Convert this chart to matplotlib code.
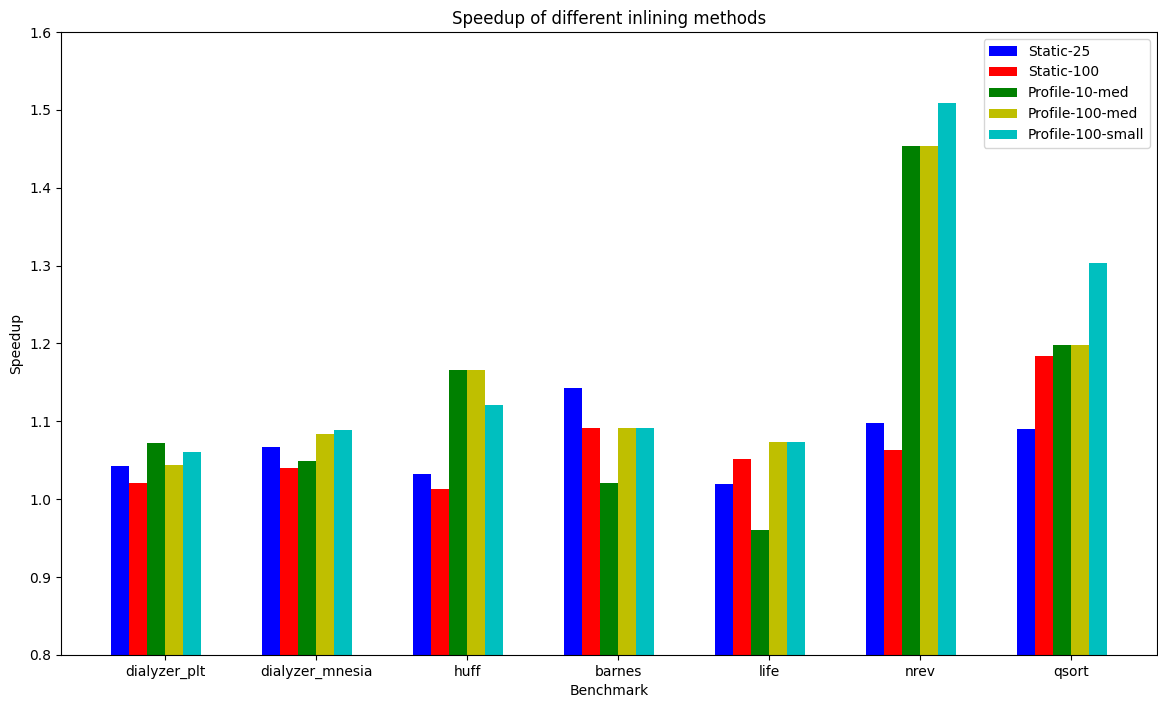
import matplotlib
matplotlib.use("agg")
import matplotlib.pyplot as plt
import numpy as np

benchmarks = ["dialyzer_plt", "dialyzer_mnesia", "huff", "barnes", "life", "nrev", "qsort"]
methods = ["Static-25", "Static-100", "Profile-10-med", "Profile-100-med", "Profile-100-small"]
colors = ["b", "r", "g", "y", "c"]

static_25 = [1.043, 1.067, 1.032, 1.143, 1.020, 1.098, 1.090]
static_100 = [1.021, 1.040, 1.013, 1.092, 1.052, 1.063, 1.184]
profile_10_med = [1.072, 1.049, 1.166, 1.021, 0.961, 1.454, 1.198]
profile_100_med = [1.044, 1.084, 1.166, 1.092, 1.074, 1.454, 1.198]
profile_100_small = [1.061, 1.089, 1.121, 1.092, 1.074, 1.509, 1.303]

series = [static_25, static_100, profile_10_med, profile_100_med, profile_100_small]

fig, ax = plt.subplots(figsize=(11.58, 7.02), dpi=100)
fig.subplots_adjust(left=0.0527, right=0.9991, top=0.9544, bottom=0.067)

ind = np.arange(len(benchmarks))
width = 0.12
for i, (vals, label) in enumerate(zip(series, methods)):
    ax.bar(ind + i * width, vals, width, color=colors[i], label=label)

ax.set_xticks(ind + width * 2.5)
ax.set_xticklabels(benchmarks)
ax.set_ylim(0.8, 1.6)
ax.set_title("Speedup of different inlining methods")
ax.set_xlabel("Benchmark")
ax.set_ylabel("Speedup")
ax.legend(loc="upper right")

fig.savefig("out.png", dpi=100)
